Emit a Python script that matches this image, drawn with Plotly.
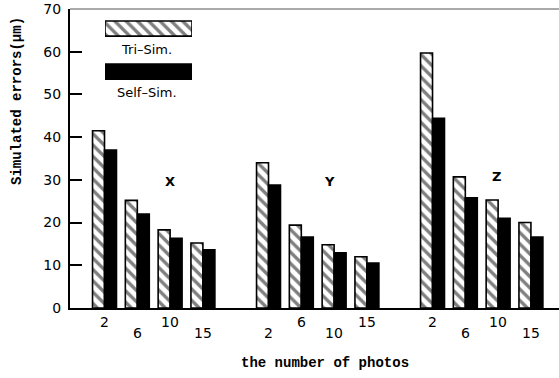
import plotly.graph_objects as go

# Simulated errors (μm) per axis and number of photos
axes_names = ["X", "Y", "Z"]
photo_counts = ["2", "6", "10", "15"]
tri_sim = [41.5, 25.2, 18.3, 15.2, 34.0, 19.4, 14.8, 12.0, 59.7, 30.7, 25.3, 20.0]
self_sim = [37.0, 22.0, 16.3, 13.6, 28.8, 16.6, 12.9, 10.5, 44.4, 25.8, 21.0, 16.6]
# staggered tick-label rows (0 = upper row, 1 = lower row)
label_rows = [0, 1, 0, 1, 1, 0, 1, 0, 0, 1, 0, 1]
y_ticks = [0, 10, 20, 30, 40, 50, 60, 70]

# each axis group occupies 4 slots followed by a one-slot gap
x_pos = [g * 5 + i for g in range(len(axes_names)) for i in range(len(photo_counts))]
x_labels = photo_counts * len(axes_names)

hatch = dict(shape="\\", fgcolor="black", bgcolor="white", size=8, solidity=0.42)
sans = "DejaVu Sans"

fig = go.Figure()

fig.add_trace(go.Bar(
    x=x_pos, y=tri_sim, name="Tri-Sim.",
    marker=dict(color="white", line=dict(color="black", width=1.6), pattern=hatch),
    showlegend=False,
))
fig.add_trace(go.Bar(
    x=x_pos, y=self_sim, name="Self-Sim.",
    marker=dict(color="black", line=dict(color="black", width=1.6)),
    showlegend=False,
))

# legend swatches on their own small axes
fig.add_trace(go.Bar(
    x=[1], y=[1], orientation="h", width=0.35, xaxis="x2", yaxis="y2",
    marker=dict(color="white", line=dict(color="black", width=1.6), pattern=hatch),
    showlegend=False, hoverinfo="skip",
))
fig.add_trace(go.Bar(
    x=[1], y=[0], orientation="h", width=0.35, xaxis="x2", yaxis="y2",
    marker=dict(color="black", line=dict(color="black", width=1.6)),
    showlegend=False, hoverinfo="skip",
))

annotations = []
# staggered number-of-photos labels
for xp, lab, row in zip(x_pos, x_labels, label_rows):
    annotations.append(dict(
        x=xp, y=0, xref="x", yref="y", text=lab, showarrow=False,
        xanchor="center", yanchor="middle", yshift=-14 - 11 * row,
        font=dict(family=sans, size=14, color="black"),
    ))
# group names
group_label_pos = [(2.0, 29.5), (6.85, 29.5), (11.95, 30.8)]
for name, (gx, gy) in zip(axes_names, group_label_pos):
    annotations.append(dict(
        x=gx, y=gy, xref="x", yref="y", text="<b>%s</b>" % name,
        xanchor="center", yanchor="middle",
        showarrow=False, font=dict(family=sans, size=13, color="black"),
    ))
# legend texts
annotations.append(dict(x=0.157, y=0.866, xref="paper", yref="paper",
                        xanchor="center", yanchor="middle",
                        text="Tri\u2013Sim.", showarrow=False,
                        font=dict(family=sans, size=13, color="black")))
annotations.append(dict(x=0.157, y=0.722, xref="paper", yref="paper",
                        xanchor="center", yanchor="middle",
                        text="Self\u2013Sim.", showarrow=False,
                        font=dict(family=sans, size=13, color="black")))
# axis titles
annotations.append(dict(x=0.5215, y=-0.185, xref="paper", yref="paper",
                        xanchor="center", yanchor="middle",
                        text="<b>the number of photos</b>", showarrow=False,
                        font=dict(family="Liberation Mono", size=14, color="black")))
annotations.append(dict(x=-0.108, y=0.693, xref="paper", yref="paper",
                        xanchor="center", yanchor="middle",
                        text="<b>Simulated errors(μm)</b>", textangle=-90,
                        showarrow=False,
                        font=dict(family="Liberation Mono", size=14, color="black")))

fig.update_layout(
    width=559, height=378,
    margin=dict(l=70, r=0, t=9, b=70),
    paper_bgcolor="white", plot_bgcolor="white",
    barmode="group", bargap=0.27, bargroupgap=0,
    xaxis=dict(range=[-1.052, 13.856], showticklabels=False, ticks="",
               showgrid=False, zeroline=False, showline=True,
               linecolor="black", linewidth=2),
    yaxis=dict(range=[0, 70], tickvals=y_ticks, ticks="inside", ticklen=12,
               tickwidth=1.5, tickcolor="black", showgrid=False, zeroline=False,
               showline=True, linecolor="black", linewidth=2,
               tickfont=dict(family=sans, size=14, color="black"),
               ticklabelstandoff=4),
    xaxis2=dict(domain=[0.0716, 0.2495], range=[0, 1], anchor="y2",
                visible=False, fixedrange=True),
    yaxis2=dict(domain=[0.7326, 0.9923], range=[-0.4, 1.4], anchor="x2",
                visible=False, fixedrange=True),
    annotations=annotations,
    shapes=[dict(type="line", xref="paper", yref="paper", x0=0, x1=1, y0=1, y1=1,
                 line=dict(color="#555555", width=1))],
)

fig.write_html("out.html")
